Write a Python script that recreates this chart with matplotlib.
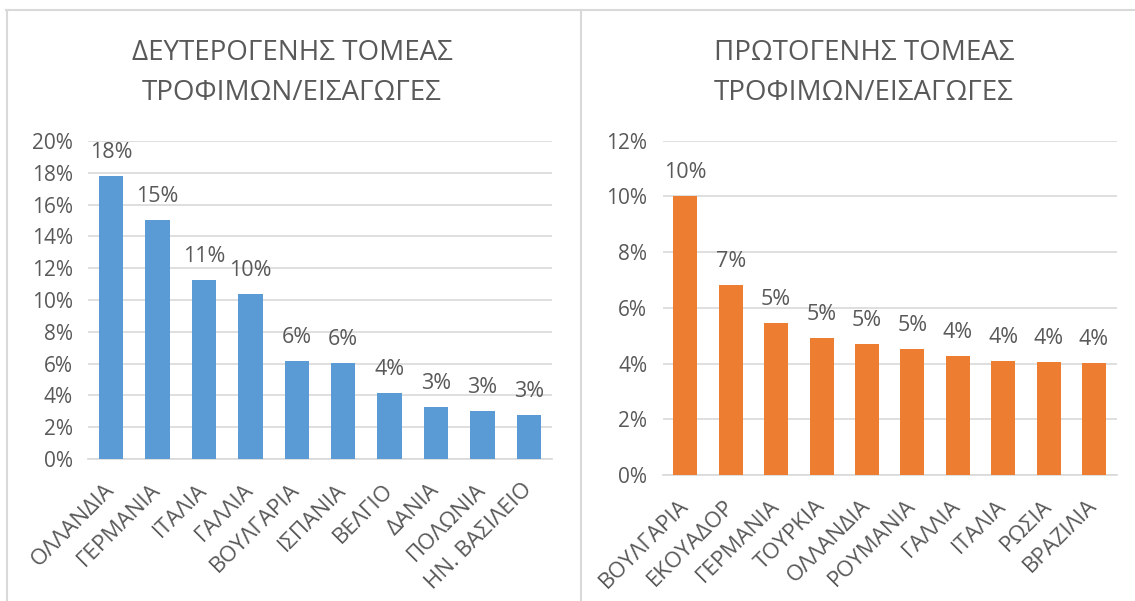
import matplotlib.pyplot as plt
from matplotlib.lines import Line2D
from matplotlib.ticker import MultipleLocator, FuncFormatter

plt.rcParams['font.family'] = ['Open Sans', 'DejaVu Sans']

W, H = 1135, 601

# secondary sector (left chart)
left_title = ['ΔΕΥΤΕΡΟΓΕΝΗΣ ΤΟΜΕΑΣ', 'ΤΡΟΦΙΜΩΝ/ΕΙΣΑΓΩΓΕΣ']
left_countries = ['ΟΛΛΑΝΔΙΑ', 'ΓΕΡΜΑΝΙΑ', 'ΙΤΑΛΙΑ', 'ΓΑΛΛΙΑ', 'ΒΟΥΛΓΑΡΙΑ',
                  'ΙΣΠΑΝΙΑ', 'ΒΕΛΓΙΟ', 'ΔΑΝΙΑ', 'ΠΟΛΩΝΙΑ', 'ΗΝ. ΒΑΣΙΛΕΙΟ']
left_values = [17.8, 15.03, 11.26, 10.38, 6.14, 6.04, 4.13, 3.25, 3.0, 2.77]

# primary sector (right chart)
right_title = ['ΠΡΩΤΟΓΕΝΗΣ ΤΟΜΕΑΣ', 'ΤΡΟΦΙΜΩΝ/ΕΙΣΑΓΩΓΕΣ']
right_countries = ['ΒΟΥΛΓΑΡΙΑ', 'ΕΚΟΥΑΔΟΡ', 'ΓΕΡΜΑΝΙΑ', 'ΤΟΥΡΚΙΑ', 'ΟΛΛΑΝΔΙΑ',
                   'ΡΟΥΜΑΝΙΑ', 'ΓΑΛΛΙΑ', 'ΙΤΑΛΙΑ', 'ΡΩΣΙΑ', 'ΒΡΑΖΙΛΙΑ']
right_values = [10.0, 6.82, 5.46, 4.93, 4.69, 4.52, 4.28, 4.08, 4.06, 4.02]

TXT = '#595959'
GRID = '#D9D9D9'
FS = 15

fig = plt.figure(figsize=(W / 100, H / 100), dpi=100)


def px(x0, y_top, x1, y_bot):
    return [x0 / W, 1 - y_bot / H, (x1 - x0) / W, (y_bot - y_top) / H]


def draw(ax, names, vals, color, ymax, step, title, cx):
    x = range(len(names))
    bars = ax.bar(x, vals, width=0.53, color=color, zorder=3)
    ax.set_xlim(-0.5, len(names) - 0.5)
    ax.set_ylim(0, ymax)
    ax.yaxis.set_major_locator(MultipleLocator(step))
    ax.yaxis.set_major_formatter(FuncFormatter(lambda v, p: f'{v:.0f}%'))
    ax.grid(axis='y', color=GRID, linewidth=1.2, zorder=0)
    for s in ['top', 'right', 'left']:
        ax.spines[s].set_visible(False)
    ax.spines['bottom'].set_color(GRID)
    ax.spines['bottom'].set_linewidth(1.2)
    ax.tick_params(length=0, labelsize=FS, labelcolor=TXT)
    ax.tick_params(axis='y', pad=11)
    ax.set_xticks(list(x))
    ax.set_xticklabels(names, rotation=45, ha='right', va='center',
                       rotation_mode='anchor', fontsize=16)
    ax.tick_params(axis='x', pad=20)
    for b, v in zip(bars, vals):
        ax.annotate(f'{v:.0f}%', (b.get_x() + b.get_width() / 2, v),
                    xytext=(0, 13), textcoords='offset points',
                    ha='center', va='baseline', fontsize=FS + 0.5, color=TXT)
    fig.text(cx / W, 1 - 60 / H, title[0], ha='center', va='baseline',
             fontsize=20, color=TXT)
    fig.text(cx / W, 1 - 100 / H, title[1], ha='center', va='baseline',
             fontsize=20, color=TXT)


ax1 = fig.add_axes(px(88, 141, 552, 459))
draw(ax1, left_countries, left_values, '#5B9BD5', 20, 2, left_title, 292)

ax2 = fig.add_axes(px(662.6, 140.7, 1116.7, 475))
draw(ax2, right_countries, right_values, '#ED7D31', 12, 2, right_title, 864)

# chart area borders
for xs, ys in [([6 / W, 1], [1 - 9.5 / H] * 2),
               ([6.5 / W] * 2, [0, 1 - 9.5 / H]),
               ([581 / W] * 2, [0, 1 - 9.5 / H])]:
    fig.add_artist(Line2D(xs, ys, color=GRID, linewidth=1.5))

fig.savefig('out.png', dpi=100, facecolor='white')
